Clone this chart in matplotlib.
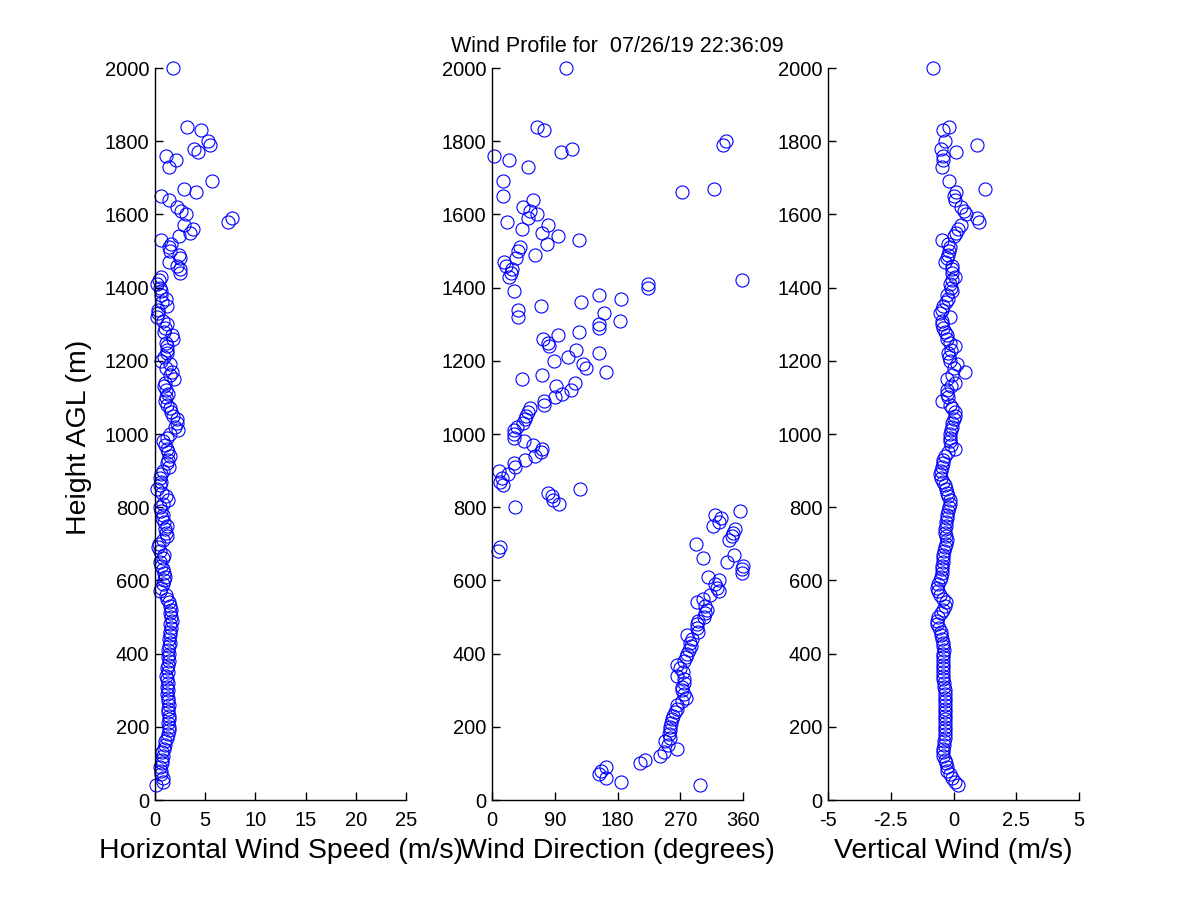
import numpy as np
import matplotlib
matplotlib.use("Agg")
import matplotlib.pyplot as plt

plt.rcParams['font.family'] = ['Liberation Sans', 'DejaVu Sans']

title_text = "Wind Profile for  07/26/19 22:36:09"

heights = [40, 50, 60, 70, 80, 90, 100, 110, 120, 130, 140, 150, 160, 170, 180, 190,
           200, 210, 220, 230, 240, 250, 260, 270, 280, 290, 300, 310, 320, 330, 340,
           350, 360, 370, 380, 390, 400, 410, 420, 430, 440, 450, 460, 470, 480, 490,
           500, 510, 520, 530, 540, 550, 560, 570, 580, 590, 600, 610, 620, 630, 640,
           650, 660, 670, 680, 690, 700, 710, 720, 730, 740, 750, 760, 770, 780, 790,
           800, 810, 820, 830, 840, 850, 860, 870, 880, 890, 900, 910, 920, 930, 940,
           950, 960, 970, 980, 990, 1000, 1010, 1020, 1030, 1040, 1050, 1060, 1070,
           1080, 1090, 1100, 1110, 1120, 1130, 1140, 1150, 1160, 1170, 1180, 1190,
           1200, 1210, 1220, 1230, 1240, 1250, 1260, 1270, 1280, 1290, 1300, 1310,
           1320, 1330, 1340, 1350, 1360, 1370, 1380, 1390, 1400, 1410, 1420, 1430,
           1440, 1450, 1460, 1470, 1480, 1490, 1500, 1510, 1520, 1530, 1540, 1550,
           1560, 1570, 1580, 1590, 1600, 1610, 1620, 1640, 1650, 1660, 1670, 1690,
           1730, 1750, 1760, 1770, 1780, 1790, 1800, 1830, 1840, 2000]

speed = [0.1, 0.8, 0.8, 0.6, 0.6, 0.5, 0.7, 0.7, 0.8, 0.7, 0.9, 1.0, 1.0, 1.2, 1.3, 1.4,
         1.4, 1.3, 1.4, 1.4, 1.3, 1.3, 1.4, 1.3, 1.3, 1.2, 1.3, 1.2, 1.3, 1.2, 1.1,
         1.3, 1.2, 1.3, 1.4, 1.3, 1.4, 1.3, 1.4, 1.5, 1.4, 1.5, 1.5, 1.6, 1.5, 1.7,
         1.6, 1.5, 1.6, 1.5, 1.4, 1.2, 1.1, 0.5, 0.6, 0.8, 0.9, 1.0, 0.9, 0.8, 0.6,
         0.5, 0.8, 0.9, 0.5, 0.3, 0.4, 0.8, 1.2, 1.1, 1.0, 1.2, 0.9, 0.7, 0.8, 0.6,
         0.5, 0.8, 1.3, 1.1, 0.7, 0.2, 0.5, 0.6, 0.5, 0.6, 0.8, 1.4, 1.2, 1.3, 1.5,
         1.3, 1.2, 1.0, 0.8, 1.2, 1.5, 2.3, 2.0, 2.2, 2.2, 1.8, 1.6, 1.5,
         1.2, 1.0, 1.1, 1.3, 1.1, 0.9, 1.0, 1.9, 1.5, 1.7, 1.1, 1.5,
         0.6, 0.9, 1.2, 1.2, 1.2, 1.1, 1.8, 1.7, 0.9, 1.0, 1.2, 0.8,
         0.2, 0.3, 0.3, 1.2, 0.7, 1.1, 0.6, 0.6, 0.5, 0.2, 0.4, 0.6,
         2.5, 2.5, 2.2, 1.4, 2.5, 2.4, 1.5, 1.4, 1.6, 0.6, 2.4, 3.5,
         3.8, 2.9, 7.3, 7.7, 3.1, 2.6, 2.2, 1.4, 0.6, 4.1, 2.9, 5.7,
         1.4, 2.1, 1.1, 4.3, 3.9, 5.5, 5.3, 4.6, 3.2, 1.8]

direction = [298, 185, 164, 153, 157, 164, 212, 219, 241, 246, 265, 252, 248, 255, 254, 255,
             256, 257, 258, 259, 262, 265, 266, 272, 278, 275, 273, 272, 276, 275, 265,
             274, 270, 265, 275, 278, 280, 282, 285, 284, 287, 279, 296, 294, 294, 295,
             304, 305, 308, 306, 294, 302, 313, 325, 322, 320, 326, 310, 359, 359, 360,
             337, 302, 347, 8, 12, 292, 340, 344, 345, 349, 317, 325, 328, 320, 356,
             33, 96, 88, 86, 81, 126, 16, 11, 14, 23, 10, 33, 31, 47, 62,
             70, 72, 59, 46, 31, 31, 32, 36, 44, 47, 49, 51, 54,
             75, 75, 91, 101, 114, 92, 119, 43, 72, 163, 135, 130,
             89, 109, 153, 120, 82, 80, 73, 95, 125, 153, 154, 183,
             38, 161, 38, 70, 128, 185, 153, 32, 224, 224, 359, 25,
             27, 28, 20, 17, 34, 61, 37, 40, 79, 125, 95, 72,
             43, 80, 21, 52, 64, 55, 45, 59, 16, 273, 319, 16,
             51, 24, 3, 99, 115, 332, 336, 74, 64, 106]

vertical = [0.19, 0.05, -0.07, -0.15, -0.25, -0.27, -0.30, -0.35, -0.40, -0.41, -0.40, -0.38,
            -0.36, -0.34, -0.34, -0.35, -0.34, -0.33, -0.34, -0.35, -0.34, -0.33, -0.34,
            -0.35, -0.34, -0.33, -0.34, -0.36, -0.38, -0.40, -0.41, -0.42, -0.41, -0.40,
            -0.41, -0.42, -0.41, -0.38, -0.40, -0.43, -0.46, -0.48, -0.50, -0.58, -0.64,
            -0.67, -0.62, -0.50, -0.42, -0.34, -0.30, -0.40, -0.55, -0.62, -0.67, -0.62,
            -0.55, -0.50, -0.47, -0.45, -0.47, -0.42, -0.40, -0.41, -0.38, -0.35, -0.30,
            -0.27, -0.30, -0.33, -0.34, -0.30, -0.28, -0.25, -0.27, -0.22, -0.18, -0.14,
            -0.14, -0.20, -0.25, -0.30, -0.34, -0.40, -0.50, -0.54, -0.50, -0.45, -0.40,
            -0.41, -0.35, -0.20, 0.06, -0.10, -0.15, -0.14, -0.12, -0.10, -0.07, -0.07,
            0.02, 0.04, 0.06, -0.07, -0.15, -0.47, -0.21, -0.25, -0.27, -0.10, 0.06,
            -0.27, -0.05, 0.46, 0.00, 0.13, -0.14, -0.18, -0.21, -0.10, 0.06, -0.15,
            -0.25, -0.27, -0.35, -0.41, -0.45, -0.47, -0.14, -0.54, -0.45, -0.41, -0.30,
            -0.21, -0.27, -0.07, -0.10, -0.14, -0.07, 0.06, -0.05, -0.07, -0.07, -0.34,
            -0.25, -0.21, -0.18, -0.14, -0.21, -0.45, 0.00, 0.10, 0.19, 0.30, 1.02,
            0.92, 0.50, 0.40, 0.30, 0.05, 0.02, 0.10, 1.25, -0.18, -0.45, -0.41, -0.41,
            0.10, -0.50, 0.95, -0.34, -0.41, -0.18, -0.80]

speed_ticks = [0, 5, 10, 15, 20, 25]
dir_ticks = [0, 90, 180, 270, 360]
vert_ticks = [-5, -2.5, 0, 2.5, 5]
vert_ticklabels = ["-5", "-2.5", "0", "2.5", "5"]
height_ticks = [0, 200, 400, 600, 800, 1000, 1200, 1400, 1600, 1800, 2000]

fig = plt.figure(figsize=(12, 9), dpi=100)
W, H = 1200.0, 900.0
lefts = [155, 492, 828]
aw = 251
bottom = (H - 800) / H
ah = 732 / H

panels = [
    (speed, (0, 25), speed_ticks, [str(t) for t in speed_ticks], "Horizontal Wind Speed (m/s)"),
    (direction, (0, 360), dir_ticks, [str(t) for t in dir_ticks], "Wind Direction (degrees)"),
    (vertical, (-5, 5), vert_ticks, vert_ticklabels, "Vertical Wind (m/s)"),
]

axes = []
for (vals, xl, xt, xtl, lab), lx in zip(panels, lefts):
    ax = fig.add_axes([lx / W, bottom, aw / W, ah])
    ax.plot(vals, heights, linestyle='none', marker='o', markersize=9.4,
            markerfacecolor='none', markeredgecolor=(0, 0, 1), markeredgewidth=0.8,
            clip_on=False)
    ax.set_xlim(*xl)
    ax.set_ylim(0, 2000)
    ax.set_xticks(xt)
    ax.set_xticklabels(xtl)
    ax.set_yticks(height_ticks)
    ax.spines['top'].set_visible(False)
    ax.spines['right'].set_visible(False)
    for s in ('left', 'bottom'):
        ax.spines[s].set_linewidth(1.0)
    ax.tick_params(direction='in', length=6, width=1.0, labelsize=14.5,
                   top=False, right=False)
    ax.tick_params(axis='x', pad=8)
    ax.tick_params(axis='y', pad=4)
    ax.set_xlabel(lab, fontsize=20.5, labelpad=5.5)
    axes.append(ax)

fig.text(79 / W, 1 - 437 / H, "Height AGL (m)", rotation=90, fontsize=20.5,
         ha='center', va='center')
fig.text(617 / W, 1 - 52 / H, title_text, fontsize=15.5, ha='center', va='baseline')

fig.savefig("out.png", dpi=100, facecolor='white')
